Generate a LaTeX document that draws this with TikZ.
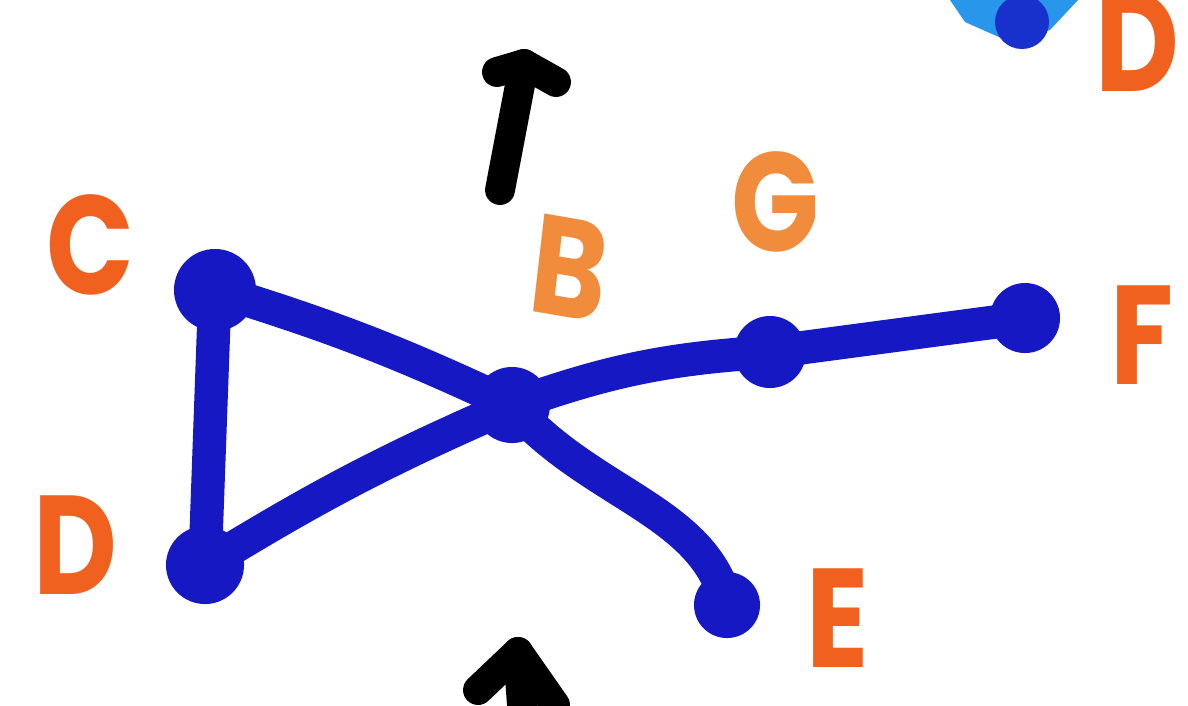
\documentclass[tikz,border=0pt]{standalone}
\usepackage{fontspec}
\usepackage{xcolor}
\usepackage{tikz}
\newfontfamily\markerfont{Poppins}

\definecolor{nodeblue}{RGB}{22,24,196}
\definecolor{lettorange}{RGB}{240,96,30}
\definecolor{lightorange}{RGB}{240,140,60}
\definecolor{skyblue}{RGB}{40,150,235}

\tikzset{
    vert/.style={circle, fill=nodeblue, inner sep=0pt, minimum size=#1},
    vert/.default=0.72cm,
    edge/.style={nodeblue, line width=9.5pt, line cap=round},
    lbl/.style={text=lettorange, inner sep=0pt, xscale=0.82, font=\markerfont\bfseries\fontsize{40}{40}\selectfont},
    pen/.style={black, line width=8.5pt, line cap=round, line join=round}
}

\begin{document}
\begin{tikzpicture}[x=0.01cm, y=-0.01cm]
    \useasboundingbox (0,0) rectangle (1188,705);
    \fill[white] (0,0) rectangle (1188,705);

    % ===== Partial blob at top right =====
    \fill[skyblue] (950,0) -- (1078,0) -- (1050,30) -- (1010,42) -- (965,22) -- cycle;
    \fill[nodeblue!80!skyblue] (1022,22) circle (27);

    % ===== Vertices =====
    \node[vert=0.82cm] (C) at (215,290) {};
    \node[vert=0.76cm] (B) at (512,405) {};
    \node[vert=0.72cm] (G) at (770,352) {};
    \node[vert=0.7cm] (F) at (1025,318) {};
    \node[vert=0.78cm] (D) at (205,565) {};
    \node[vert=0.66cm] (E) at (727,605) {};

    % ===== Edges =====
    \draw[edge] (C.center) -- (D.center);
    \draw[edge] (C.center) to[bend left=4] (B.center);
    \draw[edge] (D.center) to[bend left=4] (B.center);
    \draw[edge] (B.center) to[bend left=8] (G.center);
    \draw[edge] (G.center) -- (F.center);
    \draw[edge] (B.center) .. controls (590,495) and (705,510) .. (E.center);

    % ===== Labels =====
    \node[lbl] (labC) at (90,245) {C};
    \node[lbl, text=lightorange, rotate=-8] (labB) at (570,268) {B};
    \node[lbl, text=lightorange] (labG) at (775,202) {G};
    \node[lbl] (labF) at (1142,335) {F};
    \node[lbl] (labD) at (75,545) {D};
    \node[lbl] (labE) at (838,618) {E};
    \node[lbl] (labDtop) at (1137,42) {D};

    % ===== Arrows (pen strokes) =====
    \coordinate (upTail) at (500,190);
    \coordinate (upTip) at (524,64);
    \draw[pen] (upTail) -- (upTip);
    \draw[pen] (497,72) -- (upTip) -- (556,82);
    \coordinate (lowTip) at (518,652);
    \draw[pen] (478,690) -- (lowTip) -- (555,705);
    \draw[pen] (lowTip) -- (522,705);
\end{tikzpicture}
\end{document}
